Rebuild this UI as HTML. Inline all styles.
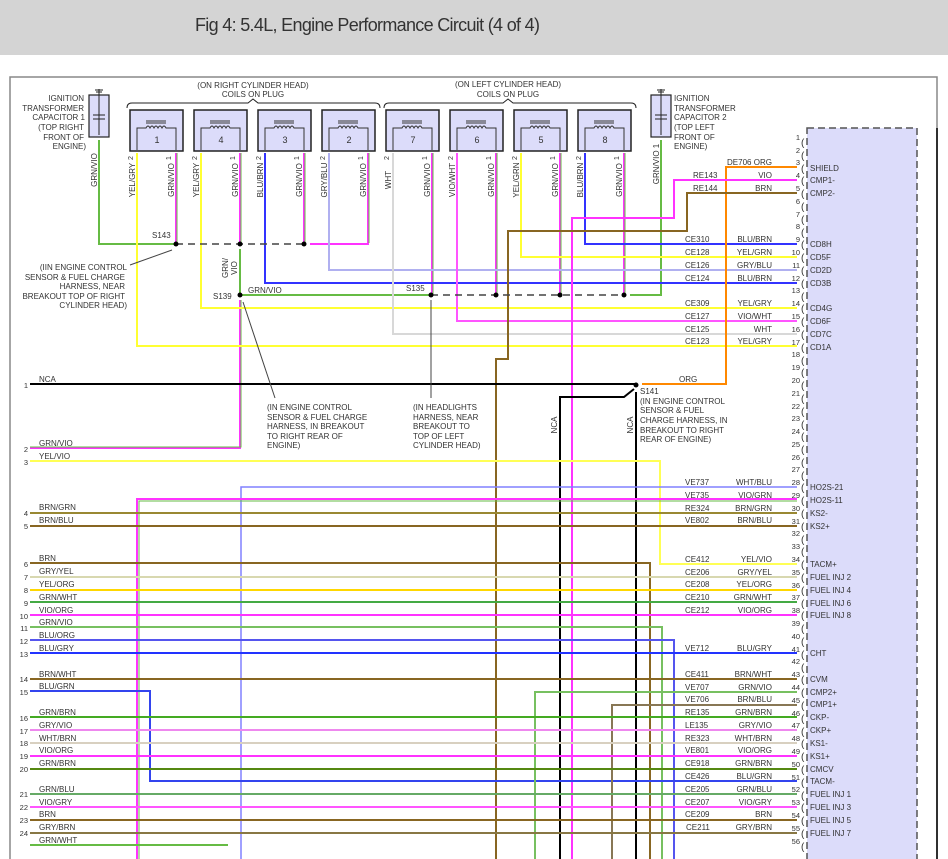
<!DOCTYPE html>
<html><head><meta charset="utf-8"><style>
html,body{margin:0;padding:0;background:#fff;width:948px;height:859px;overflow:hidden}
svg{display:block}
text{font-family:"Liberation Sans",sans-serif;fill:#333}
</style></head><body>
<svg width="948" height="859" viewBox="0 0 948 859" xmlns="http://www.w3.org/2000/svg">
<rect x="0" y="0" width="948" height="55" fill="#d4d4d4"/>
<text x="195" y="31" font-size="18" textLength="345" fill="#333">Fig 4: 5.4L, Engine Performance Circuit (4 of 4)</text>
<path d="M10,859 V77 H937 V859" fill="none" stroke="#888" stroke-width="1.5"/>
<line x1="937" y1="128" x2="937" y2="859" stroke="#000" stroke-width="1.5"/>

<!-- connector -->
<rect x="807" y="128" width="110" height="740" fill="#dcdcfa" stroke="#555" stroke-width="1.5" stroke-dasharray="7,4"/>

<g fill="none" stroke-width="2">
<!-- coil pin 1 GRN/VIO wires -->
<g stroke="#ff33ff">
<path d="M176,153 V244"/><path d="M240,153 V244"/><path d="M304,153 V244"/><path d="M368,153 V244 H310"/>
<path d="M432,153 V295"/><path d="M496,153 V295"/><path d="M560,153 V295"/><path d="M624,153 V295"/>
</g>
<g stroke="#66bb44" stroke-width="1">
<path d="M177,153 V243"/><path d="M241,153 V243"/><path d="M305,153 V243"/><path d="M369,153 V243"/>
<path d="M433,153 V294"/><path d="M497,153 V294"/><path d="M561,153 V294"/><path d="M625,153 V294"/>
</g>
<path d="M99,140 V244 H176" stroke="#66bb44"/>
<path d="M661,140 V295 H630" stroke="#66bb44"/>
<path d="M240,249 V295 H431" stroke="#66bb44"/>
<path d="M240,300 V448 H30" stroke="#ff33ff"/>
<path d="M241,300 V447 H30" stroke="#66bb44" stroke-width="1"/>

<!-- coil pin 2 wires -->
<path d="M137,153 V346 H797" stroke="#ffff33"/>
<path d="M201,153 V308 H797" stroke="#ffff33"/>
<path d="M265,153 V283 H797" stroke="#3333ff"/>
<path d="M329,153 V270 H797" stroke="#b0b0f0"/>
<path d="M393,153 V334 H797" stroke="#d8d8d8"/>
<path d="M457,153 V321 H797" stroke="#ff55ff"/>
<path d="M521,153 V257 H797" stroke="#ffff33"/>
<path d="M585,153 V244 H797" stroke="#3333ff"/>

<!-- upper right -->
<path d="M797,167 H726 V384 H642" stroke="#ff8800"/>
<path d="M797,180 H674 V218 H572 V859" stroke="#ff33ff"/>
<path d="M797,193 H687 V231 H508 V359 H496 V859" stroke="#886622"/>
<path d="M30,384 H636" stroke="#000"/>
<path d="M560,859 V397 H624 L634,389" stroke="#000"/>
<path d="M636,392 V859" stroke="#000"/>

<!-- left rows -->
<path d="M30,461 H660 V564 H797" stroke="#ffff55"/>
<path d="M241,859 V487 H797" stroke="#8080ff" stroke-width="1.5"/>
<path d="M137,859 V499 H797" stroke="#ff33ff"/>
<path d="M139,859 V501 H797" stroke="#66bb44" stroke-width="1"/>
<path d="M30,513 H797" stroke="#998833"/>
<path d="M30,526 H797" stroke="#886622"/>
<path d="M30,563 H650 V859" stroke="#886622"/>
<path d="M30,577 H797" stroke="#d8d8b0"/>
<path d="M30,590 H797" stroke="#ffd700"/>
<path d="M30,602 H797" stroke="#44aa44"/>
<path d="M30,615 H797" stroke="#ff33ff"/>
<path d="M30,627 H662 V859" stroke="#77c060"/>
<path d="M30,640 H674 V859" stroke="#5555ee"/>
<path d="M30,653 H797" stroke="#2233ff"/>
<path d="M30,679 H797" stroke="#886622"/>
<path d="M30,691 H150 V781 H797" stroke="#3344ee"/>
<path d="M535,859 V692 H797" stroke="#77c060"/>
<path d="M612,859 V705 H797" stroke="#887755"/>
<path d="M30,717 H797" stroke="#44aa22"/>
<path d="M30,730 H797" stroke="#ee88ee"/>
<path d="M30,743 H797" stroke="#d8d0c0"/>
<path d="M30,756 H797" stroke="#ff33ff"/>
<path d="M30,769 H797" stroke="#558811"/>
<path d="M30,794 H797" stroke="#66aa66"/>
<path d="M30,807 H797" stroke="#ff55ff"/>
<path d="M30,820 H797" stroke="#886622"/>
<path d="M30,833 H797" stroke="#887744"/>
<path d="M30,845 H228" stroke="#66bb44"/>
</g>

<!-- splice dashed lines & dots -->
<g stroke="#444" stroke-width="1.5" stroke-dasharray="7,5" fill="none">
<path d="M176,244 H304"/><path d="M431,295 H624"/>
</g>
<g fill="#000">
<circle cx="176" cy="244" r="2.5"/><circle cx="240" cy="244" r="2.5"/><circle cx="304" cy="244" r="2.5"/>
<circle cx="240" cy="295" r="2.5"/><circle cx="431" cy="295" r="2.5"/><circle cx="496" cy="295" r="2.5"/><circle cx="560" cy="295" r="2.5"/><circle cx="624" cy="295" r="2.5"/>
<circle cx="636" cy="385" r="2.5"/>
</g>
<g stroke="#444" stroke-width="1" fill="none">
<path d="M130,265 L172,250"/><path d="M275,398 L243,302"/><path d="M431,300 V398"/>
</g>

<!-- coils -->
<g stroke="#222" fill="none" stroke-width="1">
<path d="M127,108 q0,-5 5,-5 H248 l5,-4 l5,4 H375 q5,0 5,5"/>
<path d="M384,108 q0,-5 5,-5 H503 l5,-4 l5,4 H631 q5,0 5,5"/>
</g>
<g id="coils">
<g stroke="#222" stroke-width="1.5" fill="#dcdcfa">
<rect x="130" y="110" width="53" height="41"/><rect x="194" y="110" width="53" height="41"/><rect x="258" y="110" width="53" height="41"/><rect x="322" y="110" width="53" height="41"/>
<rect x="386" y="110" width="53" height="41"/><rect x="450" y="110" width="53" height="41"/><rect x="514" y="110" width="53" height="41"/><rect x="578" y="110" width="53" height="41"/>
</g>
<g stroke="#333" stroke-width="1" fill="none">
<path d="M137,150 V128 H146 q2,-4 4,0 q2,-4 4,0 q2,-4 4,0 q2,-4 4,0 q2,-4 4,0 H176 V150 M146,121 H166 M146,123 H166"/>
<path d="M201,150 V128 H210 q2,-4 4,0 q2,-4 4,0 q2,-4 4,0 q2,-4 4,0 q2,-4 4,0 H240 V150 M210,121 H230 M210,123 H230"/>
<path d="M265,150 V128 H274 q2,-4 4,0 q2,-4 4,0 q2,-4 4,0 q2,-4 4,0 q2,-4 4,0 H304 V150 M274,121 H294 M274,123 H294"/>
<path d="M329,150 V128 H338 q2,-4 4,0 q2,-4 4,0 q2,-4 4,0 q2,-4 4,0 q2,-4 4,0 H368 V150 M338,121 H358 M338,123 H358"/>
<path d="M393,150 V128 H402 q2,-4 4,0 q2,-4 4,0 q2,-4 4,0 q2,-4 4,0 q2,-4 4,0 H432 V150 M402,121 H422 M402,123 H422"/>
<path d="M457,150 V128 H466 q2,-4 4,0 q2,-4 4,0 q2,-4 4,0 q2,-4 4,0 q2,-4 4,0 H496 V150 M466,121 H486 M466,123 H486"/>
<path d="M521,150 V128 H530 q2,-4 4,0 q2,-4 4,0 q2,-4 4,0 q2,-4 4,0 q2,-4 4,0 H560 V150 M530,121 H550 M530,123 H550"/>
<path d="M585,150 V128 H594 q2,-4 4,0 q2,-4 4,0 q2,-4 4,0 q2,-4 4,0 q2,-4 4,0 H624 V150 M594,121 H614 M594,123 H614"/>
</g>
<g font-size="9" text-anchor="middle">
<text x="157" y="143">1</text><text x="221" y="143">4</text><text x="285" y="143">3</text><text x="349" y="143">2</text>
<text x="413" y="143">7</text><text x="477" y="143">6</text><text x="541" y="143">5</text><text x="605" y="143">8</text>
</g>
</g>

<!-- capacitors -->
<g stroke="#222" stroke-width="1.2" fill="#dcdcfa">
<rect x="89" y="95" width="20" height="42"/><rect x="651" y="95" width="20" height="42"/>
</g>
<g stroke="#222" stroke-width="1" fill="none">
<path d="M99,89 V135 M93,115 H105 M93,119 H105 M95,90 H103 M96,92 H102"/>
<path d="M661,89 V135 M655,115 H667 M655,119 H667 M657,90 H665 M658,92 H664"/>
</g>

<g font-size="8">
<text x="253" y="88" text-anchor="middle">(ON RIGHT CYLINDER HEAD)</text>
<text x="253" y="97" text-anchor="middle">COILS ON PLUG</text>
<text x="508" y="87" text-anchor="middle">(ON LEFT CYLINDER HEAD)</text>
<text x="508" y="97" text-anchor="middle">COILS ON PLUG</text>
<g text-anchor="end">
<text x="84" y="101">IGNITION</text><text x="84" y="111">TRANSFORMER</text><text x="85" y="120">CAPACITOR 1</text>
<text x="84" y="130">(TOP RIGHT</text><text x="84" y="140">FRONT OF</text><text x="86" y="149">ENGINE)</text>
<text x="127" y="270">(IIN ENGINE CONTROL</text><text x="125" y="280">SENSOR &amp; FUEL CHARGE</text>
<text x="125" y="289">HARNESS, NEAR</text><text x="125" y="299">BREAKOUT TOP OF RIGHT</text><text x="127" y="308">CYLINDER HEAD)</text>
</g>
<text x="674" y="101">IGNITION</text><text x="674" y="111">TRANSFORMER</text><text x="674" y="120">CAPACITOR 2</text>
<text x="674" y="130">(TOP LEFT</text><text x="674" y="140">FRONT OF</text><text x="674" y="149">ENGINE)</text>
<text x="152" y="238">S143</text>
<text x="213" y="299">S139</text>
<text x="248" y="293">GRN/VIO</text>
<text x="406" y="291">S135</text>
<text x="267" y="410">(IN ENGINE CONTROL</text><text x="267" y="420">SENSOR &amp; FUEL CHARGE</text><text x="267" y="429">HARNESS, IN BREAKOUT</text><text x="267" y="439">TO RIGHT REAR OF</text><text x="267" y="448">ENGINE)</text>
<text x="413" y="410">(IN HEADLIGHTS</text><text x="413" y="420">HARNESS, NEAR</text><text x="413" y="429">BREAKOUT TO</text><text x="413" y="439">TOP OF LEFT</text><text x="413" y="448">CYLINDER HEAD)</text>
<text x="640" y="394">S141</text>
<text x="640" y="404">(IN ENGINE CONTROL</text><text x="640" y="413">SENSOR &amp; FUEL</text><text x="640" y="423">CHARGE HARNESS, IN</text><text x="640" y="433">BREAKOUT TO RIGHT</text><text x="640" y="442">REAR OF ENGINE)</text>
<text x="679" y="382">ORG</text>
</g>

<!-- vertical labels -->
<g font-size="8" text-anchor="middle">
<text transform="translate(97,170) rotate(-90)">GRN/VIO</text>
<text transform="translate(135,180) rotate(-90)">YEL/GRY</text><text transform="translate(174,180) rotate(-90)">GRN/VIO</text>
<text transform="translate(199,180) rotate(-90)">YEL/GRY</text><text transform="translate(238,180) rotate(-90)">GRN/VIO</text>
<text transform="translate(263,180) rotate(-90)">BLU/BRN</text><text transform="translate(302,180) rotate(-90)">GRN/VIO</text>
<text transform="translate(327,180) rotate(-90)">GRY/BLU</text><text transform="translate(366,180) rotate(-90)">GRN/VIO</text>
<text transform="translate(391,180) rotate(-90)">WHT</text><text transform="translate(430,180) rotate(-90)">GRN/VIO</text>
<text transform="translate(455,180) rotate(-90)">VIO/WHT</text><text transform="translate(494,180) rotate(-90)">GRN/VIO</text>
<text transform="translate(519,180) rotate(-90)">YEL/GRN</text><text transform="translate(558,180) rotate(-90)">GRN/VIO</text>
<text transform="translate(583,180) rotate(-90)">BLU/BRN</text><text transform="translate(622,180) rotate(-90)">GRN/VIO</text>
<text transform="translate(659,164) rotate(-90)">GRN/VIO 1</text>
<text transform="translate(228,268) rotate(-90)">GRN/</text><text transform="translate(237,268) rotate(-90)">VIO</text>
<text transform="translate(557,425) rotate(-90)">NCA</text><text transform="translate(633,425) rotate(-90)">NCA</text>
<g font-size="7">
<text transform="translate(133,158) rotate(-90)">2</text><text transform="translate(171,158) rotate(-90)">1</text>
<text transform="translate(197,158) rotate(-90)">2</text><text transform="translate(235,158) rotate(-90)">1</text>
<text transform="translate(261,158) rotate(-90)">2</text><text transform="translate(299,158) rotate(-90)">1</text>
<text transform="translate(325,158) rotate(-90)">2</text><text transform="translate(363,158) rotate(-90)">1</text>
<text transform="translate(389,158) rotate(-90)">2</text><text transform="translate(427,158) rotate(-90)">1</text>
<text transform="translate(453,158) rotate(-90)">2</text><text transform="translate(491,158) rotate(-90)">1</text>
<text transform="translate(517,158) rotate(-90)">2</text><text transform="translate(555,158) rotate(-90)">1</text>
<text transform="translate(581,158) rotate(-90)">2</text><text transform="translate(619,158) rotate(-90)">1</text>
</g>
</g>

<!-- left labels -->
<g font-size="8">
<text x="39" y="382">NCA</text><text x="39" y="446">GRN/VIO</text><text x="39" y="459">YEL/VIO</text>
<text x="39" y="510">BRN/GRN</text><text x="39" y="523">BRN/BLU</text><text x="39" y="561">BRN</text>
<text x="39" y="574">GRY/YEL</text><text x="39" y="587">YEL/ORG</text><text x="39" y="600">GRN/WHT</text>
<text x="39" y="613">VIO/ORG</text><text x="39" y="625">GRN/VIO</text><text x="39" y="638">BLU/ORG</text>
<text x="39" y="651">BLU/GRY</text><text x="39" y="677">BRN/WHT</text><text x="39" y="689">BLU/GRN</text>
<text x="39" y="715">GRN/BRN</text><text x="39" y="728">GRY/VIO</text><text x="39" y="741">WHT/BRN</text>
<text x="39" y="753">VIO/ORG</text><text x="39" y="766">GRN/BRN</text><text x="39" y="792">GRN/BLU</text>
<text x="39" y="805">VIO/GRY</text><text x="39" y="817">BRN</text><text x="39" y="830">GRY/BRN</text><text x="39" y="843">GRN/WHT</text>
</g>
<g font-size="7.5" text-anchor="end">
<text x="28" y="388">1</text><text x="28" y="452">2</text><text x="28" y="465">3</text><text x="28" y="516">4</text>
<text x="28" y="529">5</text><text x="28" y="567">6</text><text x="28" y="580">7</text><text x="28" y="593">8</text>
<text x="28" y="606">9</text><text x="28" y="619">10</text><text x="28" y="631">11</text><text x="28" y="644">12</text>
<text x="28" y="657">13</text><text x="28" y="682">14</text><text x="28" y="695">15</text><text x="28" y="721">16</text>
<text x="28" y="734">17</text><text x="28" y="746">18</text><text x="28" y="759">19</text><text x="28" y="772">20</text>
<text x="28" y="797">21</text><text x="28" y="810">22</text><text x="28" y="823">23</text><text x="28" y="836">24</text>
</g>

<!-- right IDs and colors -->
<g font-size="8">
<text x="727" y="165">DE706</text><text x="693" y="178">RE143</text><text x="693" y="191">RE144</text>
<text x="685" y="242">CE310</text><text x="685" y="255">CE128</text><text x="685" y="268">CE126</text><text x="685" y="281">CE124</text>
<text x="685" y="306">CE309</text><text x="685" y="319">CE127</text><text x="685" y="332">CE125</text><text x="685" y="344">CE123</text>
<text x="685" y="485">VE737</text><text x="685" y="498">VE735</text><text x="685" y="511">RE324</text><text x="685" y="523">VE802</text>
<text x="685" y="562">CE412</text><text x="685" y="575">CE206</text><text x="685" y="587">CE208</text><text x="685" y="600">CE210</text><text x="685" y="613">CE212</text>
<text x="685" y="651">VE712</text><text x="685" y="677">CE411</text><text x="685" y="690">VE707</text><text x="685" y="702">VE706</text>
<text x="685" y="715">RE135</text><text x="685" y="728">LE135</text><text x="685" y="741">RE323</text><text x="685" y="753">VE801</text>
<text x="685" y="766">CE918</text><text x="685" y="779">CE426</text><text x="685" y="792">CE205</text><text x="685" y="805">CE207</text>
<text x="685" y="817">CE209</text><text x="686" y="830">CE211</text>
</g>
<g font-size="8" text-anchor="end">
<text x="772" y="165">ORG</text><text x="772" y="178">VIO</text><text x="772" y="191">BRN</text>
<text x="772" y="242">BLU/BRN</text><text x="772" y="255">YEL/GRN</text><text x="772" y="268">GRY/BLU</text><text x="772" y="281">BLU/BRN</text>
<text x="772" y="306">YEL/GRY</text><text x="772" y="319">VIO/WHT</text><text x="772" y="332">WHT</text><text x="772" y="344">YEL/GRY</text>
<text x="772" y="485">WHT/BLU</text><text x="772" y="498">VIO/GRN</text><text x="772" y="511">BRN/GRN</text><text x="772" y="523">BRN/BLU</text>
<text x="772" y="562">YEL/VIO</text><text x="772" y="575">GRY/YEL</text><text x="772" y="587">YEL/ORG</text><text x="772" y="600">GRN/WHT</text><text x="772" y="613">VIO/ORG</text>
<text x="772" y="651">BLU/GRY</text><text x="772" y="677">BRN/WHT</text><text x="772" y="690">GRN/VIO</text><text x="772" y="702">BRN/BLU</text>
<text x="772" y="715">GRN/BRN</text><text x="772" y="728">GRY/VIO</text><text x="772" y="741">WHT/BRN</text><text x="772" y="753">VIO/ORG</text>
<text x="772" y="766">GRN/BRN</text><text x="772" y="779">BLU/GRN</text><text x="772" y="792">GRN/BLU</text><text x="772" y="805">VIO/GRY</text>
<text x="772" y="817">BRN</text><text x="772" y="830">GRY/BRN</text>
</g>

<!-- pin numbers -->
<g font-size="7.5" text-anchor="end">
<text x="800" y="140">1</text><text x="800" y="153">2</text><text x="800" y="165">3</text><text x="800" y="178">4</text><text x="800" y="191">5</text><text x="800" y="204">6</text><text x="800" y="217">7</text><text x="800" y="229">8</text><text x="800" y="242">9</text><text x="800" y="255">10</text>
<text x="800" y="268">11</text><text x="800" y="281">12</text><text x="800" y="293">13</text><text x="800" y="306">14</text><text x="800" y="319">15</text><text x="800" y="332">16</text><text x="800" y="345">17</text><text x="800" y="357">18</text><text x="800" y="370">19</text><text x="800" y="383">20</text>
<text x="800" y="396">21</text><text x="800" y="409">22</text><text x="800" y="421">23</text><text x="800" y="434">24</text><text x="800" y="447">25</text><text x="800" y="460">26</text><text x="800" y="472">27</text><text x="800" y="485">28</text><text x="800" y="498">29</text><text x="800" y="511">30</text>
<text x="800" y="524">31</text><text x="800" y="536">32</text><text x="800" y="549">33</text><text x="800" y="562">34</text><text x="800" y="575">35</text><text x="800" y="588">36</text><text x="800" y="600">37</text><text x="800" y="613">38</text><text x="800" y="626">39</text><text x="800" y="639">40</text>
<text x="800" y="652">41</text><text x="800" y="664">42</text><text x="800" y="677">43</text><text x="800" y="690">44</text><text x="800" y="703">45</text><text x="800" y="716">46</text><text x="800" y="728">47</text><text x="800" y="741">48</text><text x="800" y="754">49</text><text x="800" y="767">50</text>
<text x="800" y="780">51</text><text x="800" y="792">52</text><text x="800" y="805">53</text><text x="800" y="818">54</text><text x="800" y="831">55</text><text x="800" y="844">56</text>
</g>
<!-- brackets -->
<g font-size="10" fill="#333">
<text x="801" y="146">(</text><text x="801" y="159">(</text><text x="801" y="172">(</text><text x="801" y="184">(</text><text x="801" y="197">(</text><text x="801" y="210">(</text><text x="801" y="223">(</text><text x="801" y="236">(</text><text x="801" y="248">(</text><text x="801" y="261">(</text>
<text x="801" y="274">(</text><text x="801" y="287">(</text><text x="801" y="300">(</text><text x="801" y="312">(</text><text x="801" y="325">(</text><text x="801" y="338">(</text><text x="801" y="351">(</text><text x="801" y="364">(</text><text x="801" y="376">(</text><text x="801" y="389">(</text>
<text x="801" y="402">(</text><text x="801" y="415">(</text><text x="801" y="428">(</text><text x="801" y="440">(</text><text x="801" y="453">(</text><text x="801" y="466">(</text><text x="801" y="479">(</text><text x="801" y="491">(</text><text x="801" y="504">(</text><text x="801" y="517">(</text>
<text x="801" y="530">(</text><text x="801" y="543">(</text><text x="801" y="555">(</text><text x="801" y="568">(</text><text x="801" y="581">(</text><text x="801" y="594">(</text><text x="801" y="607">(</text><text x="801" y="619">(</text><text x="801" y="632">(</text><text x="801" y="645">(</text>
<text x="801" y="658">(</text><text x="801" y="671">(</text><text x="801" y="683">(</text><text x="801" y="696">(</text><text x="801" y="709">(</text><text x="801" y="722">(</text><text x="801" y="735">(</text><text x="801" y="747">(</text><text x="801" y="760">(</text><text x="801" y="773">(</text>
<text x="801" y="786">(</text><text x="801" y="799">(</text><text x="801" y="811">(</text><text x="801" y="824">(</text><text x="801" y="837">(</text><text x="801" y="850">(</text>
</g>
<!-- connector labels -->
<g font-size="8">
<text x="810" y="171">SHIELD</text><text x="810" y="183">CMP1-</text><text x="810" y="196">CMP2-</text>
<text x="810" y="247">CD8H</text><text x="810" y="260">CD5F</text><text x="810" y="273">CD2D</text><text x="810" y="286">CD3B</text>
<text x="810" y="311">CD4G</text><text x="810" y="324">CD6F</text><text x="810" y="337">CD7C</text><text x="810" y="350">CD1A</text>
<text x="810" y="490">HO2S-21</text><text x="810" y="503">HO2S-11</text><text x="810" y="516">KS2-</text><text x="810" y="529">KS2+</text>
<text x="810" y="567">TACM+</text><text x="810" y="580">FUEL INJ 2</text><text x="810" y="593">FUEL INJ 4</text><text x="810" y="606">FUEL INJ 6</text><text x="810" y="618">FUEL INJ 8</text>
<text x="810" y="656">CHT</text><text x="810" y="682">CVM</text><text x="810" y="695">CMP2+</text><text x="810" y="707">CMP1+</text>
<text x="810" y="720">CKP-</text><text x="810" y="733">CKP+</text><text x="810" y="746">KS1-</text><text x="810" y="759">KS1+</text>
<text x="810" y="772">CMCV</text><text x="810" y="784">TACM-</text><text x="810" y="797">FUEL INJ 1</text><text x="810" y="810">FUEL INJ 3</text>
<text x="810" y="823">FUEL INJ 5</text><text x="810" y="836">FUEL INJ 7</text>
</g>
</svg>
</body></html>
